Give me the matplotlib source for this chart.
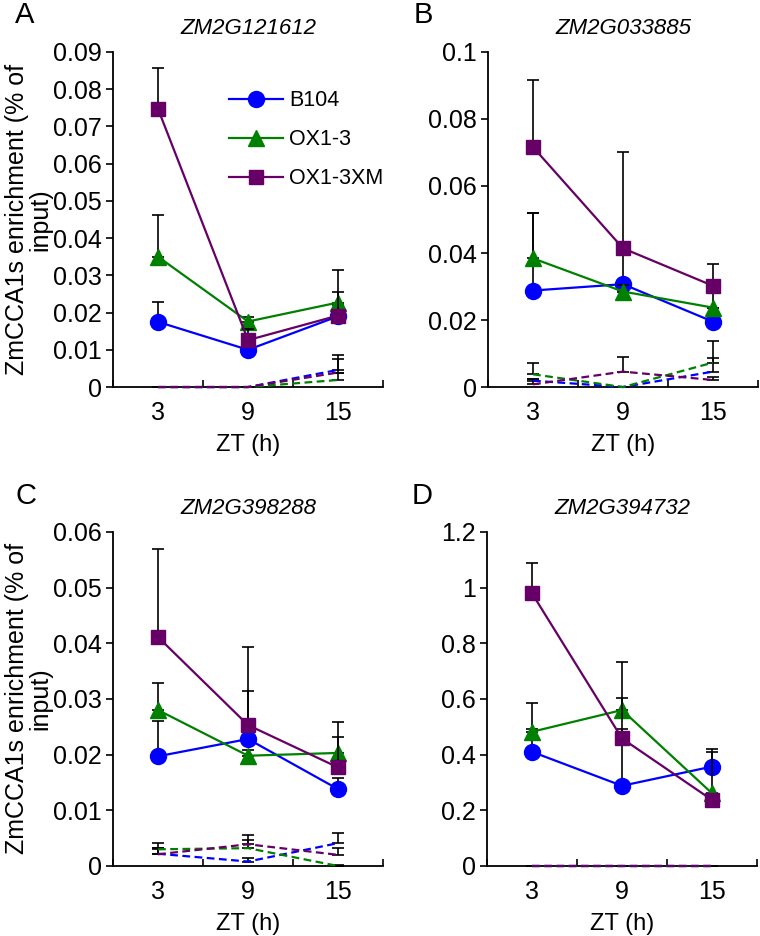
import numpy as np
import matplotlib
matplotlib.use("Agg")
import matplotlib.pyplot as plt

plt.rcParams['font.family'] = ['Liberation Sans', 'DejaVu Sans']

zt = ["3", "9", "15"]
genes = ["ZM2G121612", "ZM2G033885", "ZM2G398288", "ZM2G394732"]
letters = ["A", "B", "C", "D"]
series = ["B104", "OX1-3", "OX1-3XM"]

# panel A
a_b104 = [0.0175, 0.0100, 0.0190]
a_b104_err = [0.0054, 0.0015, 0.0030]
a_ox = [0.0350, 0.0176, 0.0227]
a_ox_err = [0.0112, 0.0013, 0.0088]
a_oxm = [0.0747, 0.0126, 0.0192]
a_oxm_err = [0.0110, 0.0030, 0.0064]
a_b104_c = [0.0, 0.0, 0.0046]
a_b104_c_err = [0.0, 0.0, 0.0040]
a_ox_c = [0.0, 0.0, 0.0019]
a_ox_c_err = [0.0, 0.0, 0.0020]
a_oxm_c = [0.0, 0.0, 0.0039]
a_oxm_c_err = [0.0, 0.0, 0.0035]

# panel B
b_b104 = [0.0288, 0.0307, 0.0195]
b_b104_err = [0.0232, 0.0120, 0.0040]
b_ox = [0.0384, 0.0285, 0.0237]
b_ox_err = [0.0136, 0.0020, 0.0060]
b_oxm = [0.0716, 0.0414, 0.0302]
b_oxm_err = [0.0200, 0.0288, 0.0065]
b_b104_c = [0.0019, 0.0, 0.0046]
b_b104_c_err = [0.0005, 0.0, 0.0040]
b_ox_c = [0.0038, 0.0, 0.0073]
b_ox_c_err = [0.0033, 0.0, 0.0064]
b_oxm_c = [0.0008, 0.0046, 0.0021]
b_oxm_c_err = [0.0016, 0.0043, 0.0010]

# panel C
c_b104 = [0.0197, 0.0228, 0.0138]
c_b104_err = [0.0063, 0.0087, 0.0020]
c_ox = [0.0280, 0.0198, 0.0203]
c_ox_err = [0.0048, 0.0010, 0.0029]
c_oxm = [0.0411, 0.0253, 0.0177]
c_oxm_err = [0.0158, 0.0140, 0.0081]
c_b104_c = [0.0022, 0.0008, 0.0041]
c_b104_c_err = [0.0010, 0.0006, 0.0019]
c_ox_c = [0.0030, 0.0032, 0.0]
c_ox_c_err = [0.0011, 0.0015, 0.0001]
c_oxm_c = [0.0021, 0.0039, 0.0020]
c_oxm_c_err = [0.0011, 0.0017, 0.0012]

# panel D
d_b104 = [0.410, 0.288, 0.357]
d_b104_err = [0.082, 0.204, 0.062]
d_ox = [0.482, 0.560, 0.261]
d_ox_err = [0.105, 0.171, 0.150]
d_oxm = [0.979, 0.458, 0.237]
d_oxm_err = [0.110, 0.146, 0.010]
d_b104_c = [0.0, 0.0, 0.0]
d_ox_c = [0.0, 0.0, 0.0]
d_oxm_c = [0.0, 0.0, 0.0]
d_zero_err = [0.0, 0.0, 0.0]

y_max = [0.09, 0.1, 0.06, 1.2]
y_step = [0.01, 0.02, 0.01, 0.2]

panels = [
    ([a_b104, a_ox, a_oxm], [a_b104_err, a_ox_err, a_oxm_err],
     [a_b104_c, a_ox_c, a_oxm_c], [a_b104_c_err, a_ox_c_err, a_oxm_c_err]),
    ([b_b104, b_ox, b_oxm], [b_b104_err, b_ox_err, b_oxm_err],
     [b_b104_c, b_ox_c, b_oxm_c], [b_b104_c_err, b_ox_c_err, b_oxm_c_err]),
    ([c_b104, c_ox, c_oxm], [c_b104_err, c_ox_err, c_oxm_err],
     [c_b104_c, c_ox_c, c_oxm_c], [c_b104_c_err, c_ox_c_err, c_oxm_c_err]),
    ([d_b104, d_ox, d_oxm], [d_b104_err, d_ox_err, d_oxm_err],
     [d_b104_c, d_ox_c, d_oxm_c], [d_zero_err, d_zero_err, d_zero_err]),
]

colors = ['#0000FF', '#008000', '#660066']
markers = ['o', '^', 's']
msizes = [11.5, 11.5, 10.5]

tick_font = 18
xlabel_font = 17
ylabel_font = 18
title_font = 16
legend_font = 15.5
letter_font = 21

# axes rectangles in figure fractions (left, bottom, width, height)
rects = [
    (0.1487, 0.5865, 0.3553, 0.358),
    (0.6421, 0.5865, 0.3553, 0.358),
    (0.1487, 0.0748, 0.3553, 0.357),
    (0.6408, 0.0748, 0.3553, 0.357),
]
letter_pos = [(25, 15), (423, 15), (26, 496), (422, 496)]

fig = plt.figure(figsize=(7.6, 9.36), dpi=100)
x = np.arange(1, len(zt) + 1)

for p in range(4):
    ax = fig.add_axes(rects[p])
    means, errs, ctrl, ctrl_err = panels[p]

    # dashed control lines
    for i in range(3):
        ax.errorbar(x, ctrl[i], yerr=[np.zeros(3), ctrl_err[i]], fmt='none',
                    ecolor='black', elinewidth=1.2, capsize=4.5, capthick=1.2,
                    zorder=2, clip_on=False)
        ax.plot(x, ctrl[i], '--', color=colors[i], lw=1.6, dashes=(3.5, 2),
                zorder=2.5 + i * 0.1, clip_on=False)

    handles = []
    for i in range(3):
        ax.errorbar(x, means[i], yerr=[np.zeros(3), errs[i]], fmt='none',
                    ecolor='black', elinewidth=1.2, capsize=4.5, capthick=1.2,
                    zorder=4 + 2 * i, clip_on=False)
        h, = ax.plot(x, means[i], '-', color=colors[i], lw=1.6,
                     marker=markers[i], markersize=msizes[i],
                     markerfacecolor=colors[i], markeredgecolor=colors[i],
                     zorder=5 + 2 * i, clip_on=False, label=series[i])
        handles.append(h)

    ax.set_xlim(0.5, 3.5)
    ax.set_ylim(0, y_max[p])
    yt = np.arange(0, y_max[p] + y_step[p] / 2, y_step[p])
    ax.set_yticks(yt)
    ax.set_yticklabels(['%g' % round(v, 3) for v in yt], fontsize=tick_font)
    ax.tick_params(axis='y', direction='out', length=5, width=1.2, pad=3)

    ax.set_xticks([0.5, 1.5, 2.5, 3.5])
    ax.set_xticklabels([])
    ax.tick_params(axis='x', which='major', direction='in', length=5, width=1.2)
    ax.set_xticks(x, minor=True)
    ax.set_xticklabels(zt, minor=True, fontsize=tick_font)
    ax.tick_params(axis='x', which='minor', length=0, pad=10)
    ax.text(0.5, -58 / 335, 'ZT (h)', transform=ax.transAxes, ha='center',
            va='center', fontsize=xlabel_font)

    for s in ['top', 'right']:
        ax.spines[s].set_visible(False)
    for s in ['left', 'bottom']:
        ax.spines[s].set_linewidth(1.3)
        ax.spines[s].set_zorder(1)

    ax.text(0.5, 1.07, genes[p], transform=ax.transAxes, ha='center',
            va='center', fontsize=title_font, style='italic')
    fig.text(letter_pos[p][0] / 760, 1 - letter_pos[p][1] / 936, letters[p],
             ha='center', va='center', fontsize=letter_font)

    if p in (0, 2):
        yc = rects[p][1] + rects[p][3] / 2
        fig.text(29 / 760, yc, 'ZmCCA1s enrichment (% of\ninput)', rotation=90,
                 ha='center', va='center', multialignment='center',
                 fontsize=ylabel_font, linespacing=0.95)

    if p == 0:
        ax.legend(handles=handles, loc='upper left', bbox_to_anchor=(0.43, 0.885),
                  frameon=False, fontsize=legend_font, handlelength=2.5,
                  handletextpad=0.28, labelspacing=0.83, borderpad=0,
                  borderaxespad=0)

plt.savefig('out.png', dpi=100)
